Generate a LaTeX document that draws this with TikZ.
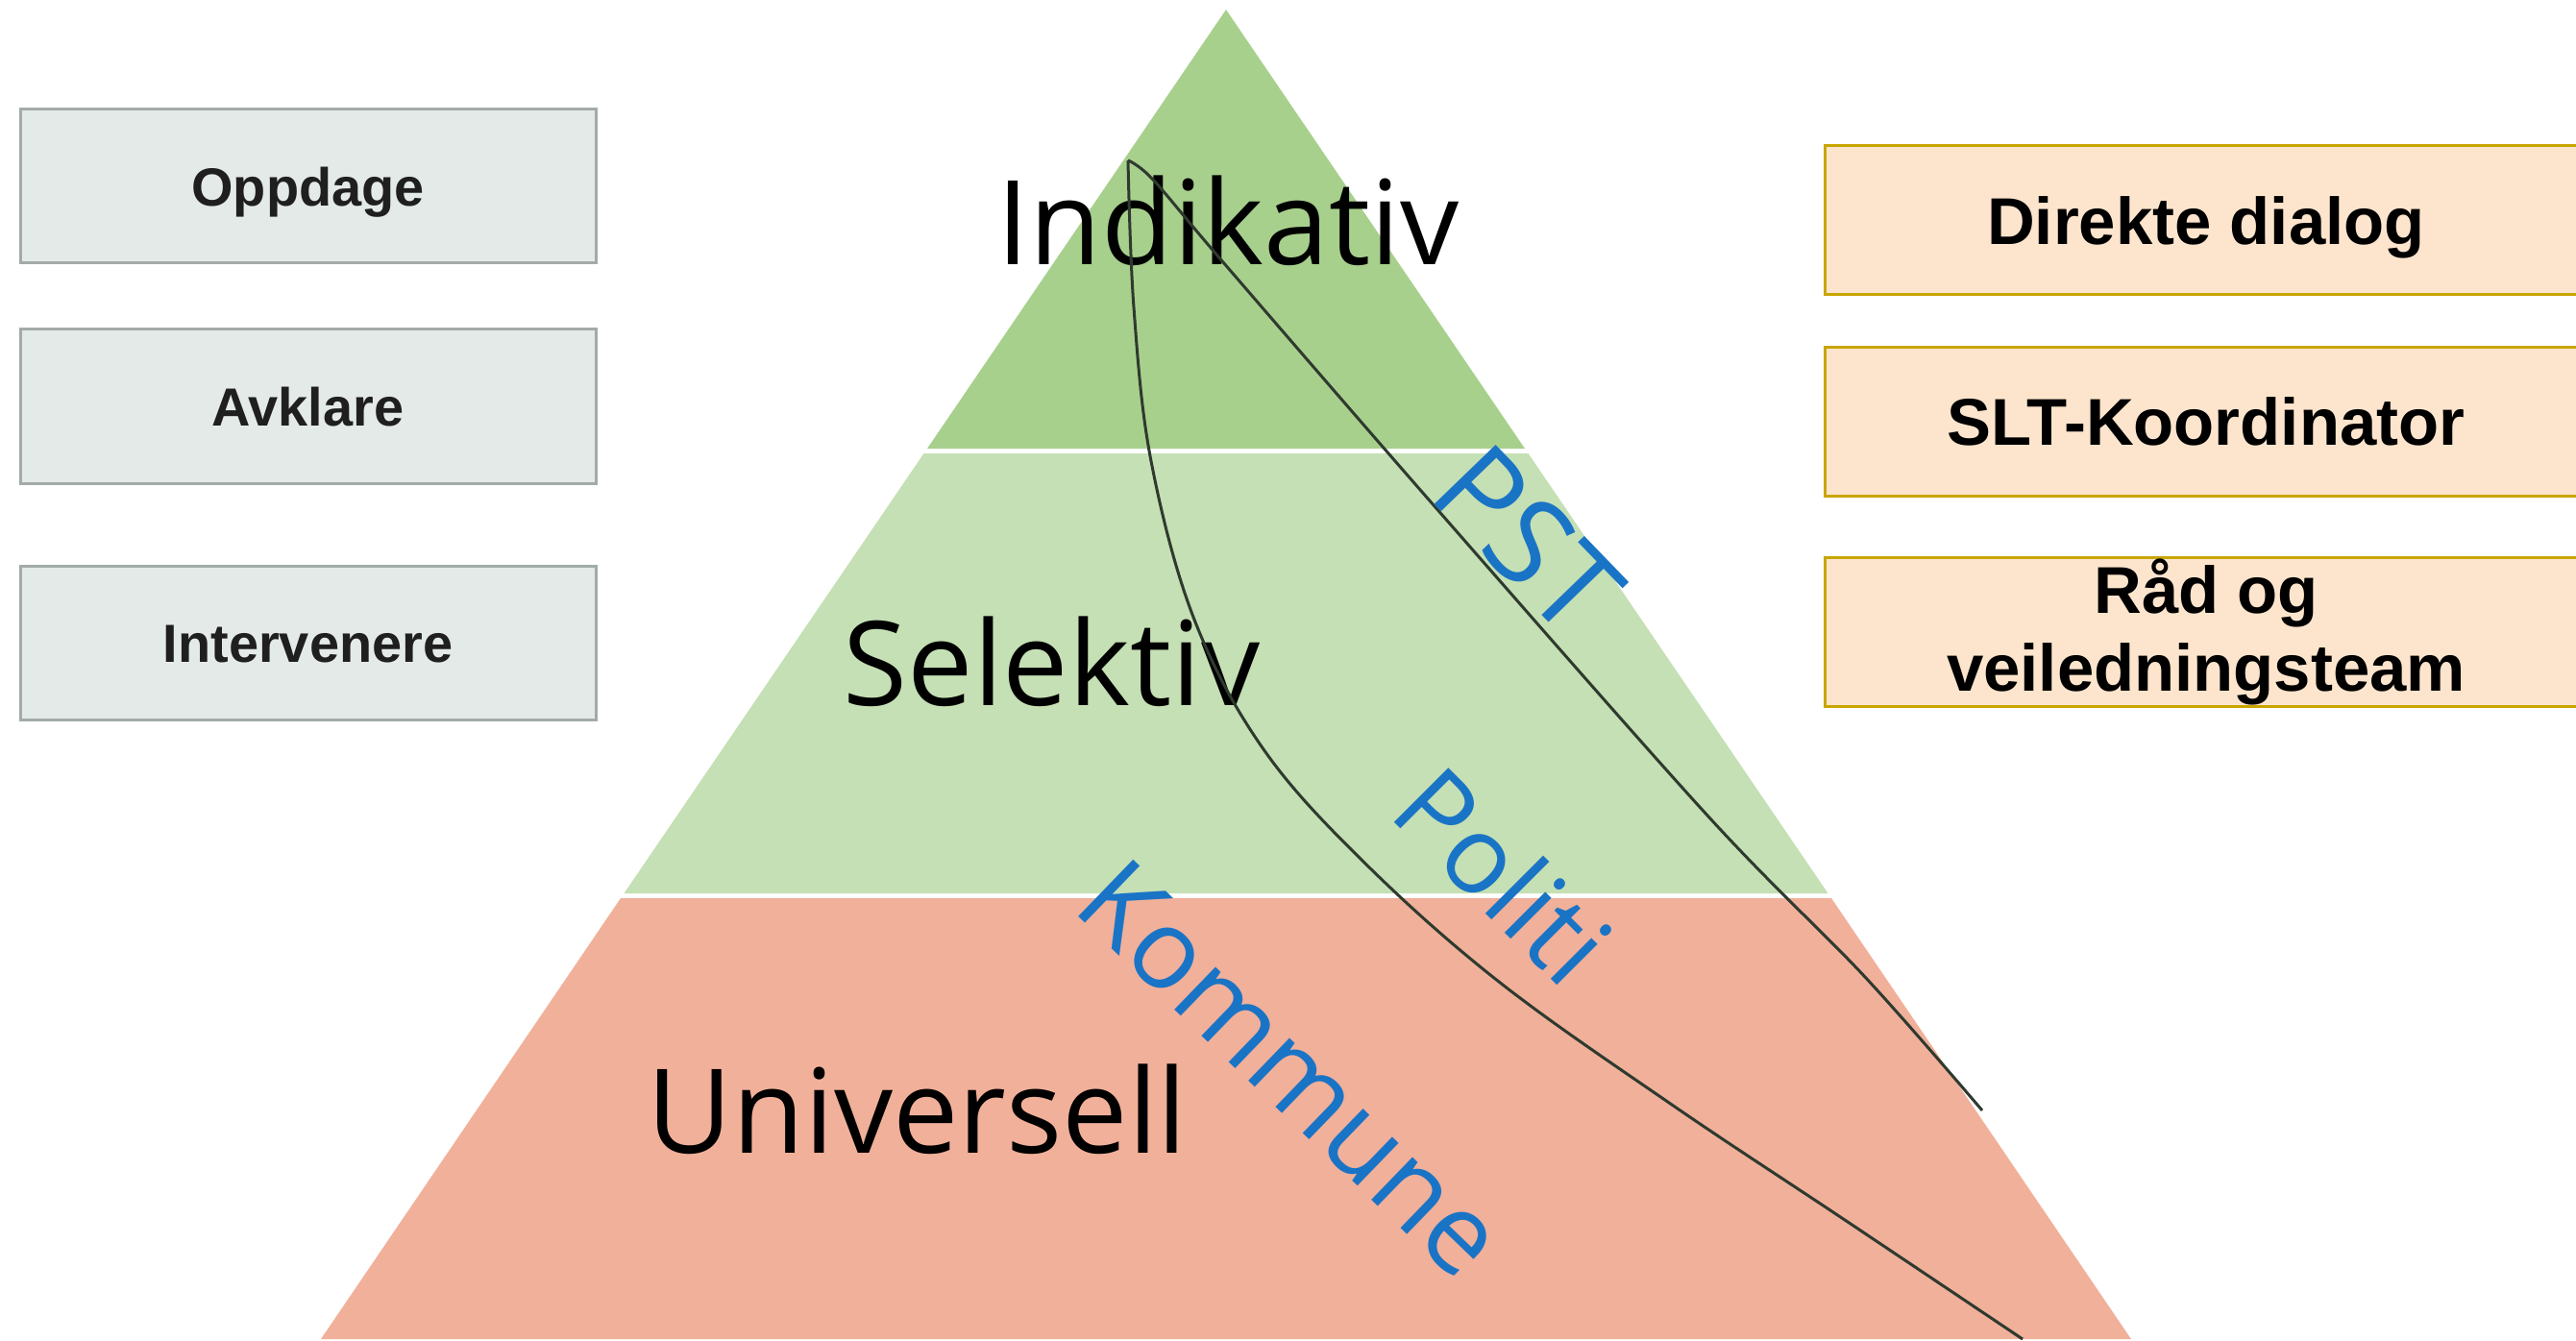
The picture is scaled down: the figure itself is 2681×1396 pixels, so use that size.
\documentclass[tikz,border=0pt]{standalone}
\usepackage{fontspec}
\setmainfont{Open Sans}
\newfontfamily\boxfont{Liberation Sans}
\definecolor{tierA}{HTML}{A8D08D}
\definecolor{tierB}{HTML}{C5E0B4}
\definecolor{tierC}{HTML}{F1B09A}
\definecolor{lbfill}{HTML}{E4EAE7}
\definecolor{lbline}{HTML}{A3ABA8}
\definecolor{rbfill}{HTML}{FDE5CD}
\definecolor{rbline}{HTML}{C9A500}
\definecolor{bluetxt}{HTML}{1A74C6}
\definecolor{curvecol}{HTML}{2F3A2F}
\begin{document}
\begin{tikzpicture}[x=0.1mm,y=-0.1mm,
  leftbox/.style={draw=lbline,fill=lbfill,line width=0.3mm,minimum width=599*0.1mm,minimum height=160*0.1mm,inner sep=0pt,
    font=\boxfont\bfseries\fontsize{15.9pt}{18pt}\selectfont,text=black!88,text height=11.4pt,text depth=0pt},
  rightbox/.style={draw=rbline,fill=rbfill,line width=0.3mm,minimum width=794*0.1mm,minimum height=155*0.1mm,inner sep=0pt,
    font=\boxfont\bfseries\fontsize{19.6pt}{23pt}\selectfont,text=black},
  tierlabel/.style={inner sep=0pt,font=\fontsize{34.7pt}{40pt}\selectfont,text=black},
  orglabel/.style={inner sep=0pt,anchor=base west,text=bluetxt},
  curveline/.style={draw=curvecol,line width=0.3mm}]
\useasboundingbox (0,0) rectangle (2681,1396);
\fill[white] (0,0) rectangle (2681,1396);
% pyramid tiers
\fill[tierA] (1276,10) -- (1587,467) -- (965,467) -- cycle;
\fill[tierB] (961.5,472) -- (1590.5,472) -- (1902.5,930) -- (649.5,930) -- cycle;
\fill[tierC] (646,935) -- (1906,935) -- (2218,1394) -- (334,1394) -- cycle;
% tier labels
\node[tierlabel,anchor=base] (ind) at (1278,275) {Indikativ};
\node[tierlabel,anchor=base west] (sel) at (877,734) {Selektiv};
\node[tierlabel,anchor=base west] (uni) at (673,1200) {Universell};
% curves
\draw[curveline] plot[smooth,tension=0.6] coordinates {(1174,167) (1180,320) (1198,480) (1243,645) (1315,780) (1420,898) (1560,1022) (1740,1150) (1920,1270) (2105,1394)};
\draw[curveline] plot[smooth,tension=0.55] coordinates {(1174,167) (1200,187) (1273,273) (1493,527) (1778,850) (1941,1017) (2063,1156)};
% organisation labels
\node[orglabel,rotate=-46,font=\fontsize{35.5pt}{40pt}\selectfont] (pst) at (1484,516) {PST};
\node[orglabel,rotate=-45,font=\fontsize{31.9pt}{36pt}\selectfont] (pol) at (1443,848) {Politi};
\node[orglabel,rotate=-44,font=\fontsize{32.8pt}{36pt}\selectfont] (kom) at (1114,946) {Kommune};
% left boxes
\node[leftbox] (opp) at (320.5,194) {Oppdage};
\node[leftbox] (avk) at (320.5,423) {Avklare};
\node[leftbox] (int) at (320.5,669.5) {Intervenere};
% right boxes
\node[rightbox,text height=14pt,text depth=0pt] (dir) at (2296,229.5) {Direkte dialog};
\node[rightbox,text height=14pt,text depth=0pt] (slt) at (2296,439) {SLT-Koordinator};
\node[rightbox,align=center] (rad) at (2296,658) {Råd og\\veiledningsteam};
\end{tikzpicture}
\end{document}
